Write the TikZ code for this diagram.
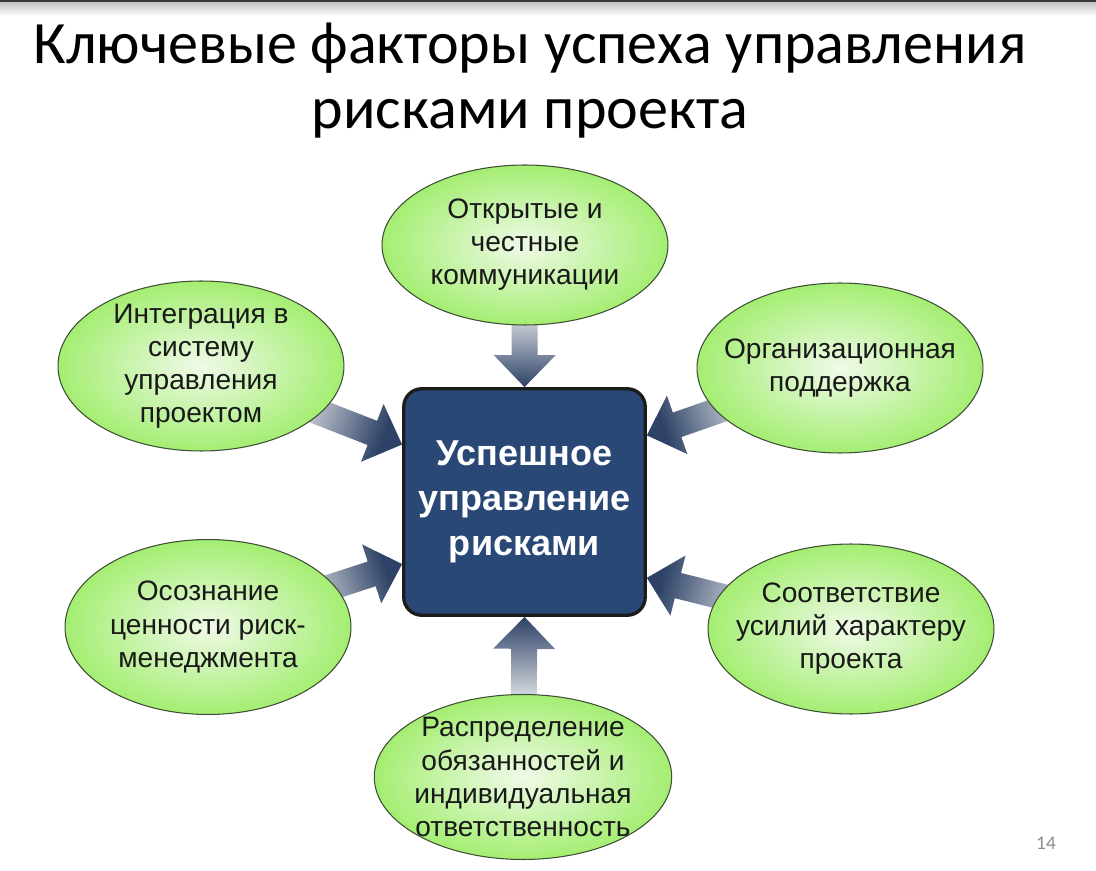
\documentclass[tikz,border=0pt]{standalone}
\usepackage{fontspec}
\setmainfont{Liberation Sans}
\newfontfamily\titlefont{Carlito}
\usetikzlibrary{calc,shapes.geometric,backgrounds}

\definecolor{boxblue}{HTML}{2A4876}
\definecolor{boxline}{HTML}{1C1C1C}
\definecolor{leafgreen}{HTML}{A4EE72}
\definecolor{leafcore}{HTML}{F0FAE8}
\definecolor{leafline}{HTML}{3E4E34}
\definecolor{arrowdark}{HTML}{2D4266}
\definecolor{arrowlight}{HTML}{D8DBE0}
\definecolor{pagegray}{HTML}{8C8C8C}

\begin{document}
\begin{tikzpicture}[x=0.02cm,y=-0.02cm,
factor/.style={shape=ellipse, minimum width=5.72cm, minimum height=3.4cm, inner sep=0pt,
  draw=leafline, line width=0.6pt, inner color=leafcore, outer color=leafgreen},
factortext/.style={align=center, inner sep=0pt, text=black!90, font=\fontsize{16}{18.8}\selectfont},
centre/.style={shape=rectangle, rounded corners=0.36cm, minimum width=4.83cm, minimum height=4.53cm,
  draw=boxline, line width=1.9pt, fill=boxblue, text=white, align=center,
  font=\fontsize{20.5}{25.5}\selectfont\bfseries},
fatarrow/.style={top color=arrowdark, bottom color=arrowlight, middle color=arrowlight,
  to path={(\tikztostart) coordinate (fa-s)
    ($(\tikztotarget)!0.64cm!(\tikztostart)$) coordinate (fa-n)
    ($(fa-s)!0.26cm!90:(fa-n)$) -- ($(fa-n)!0.26cm!-90:(fa-s)$) -- ($(fa-n)!0.62cm!-90:(fa-s)$)
    -- (\tikztotarget) -- ($(fa-n)!0.62cm!90:(fa-s)$) -- ($(fa-n)!0.26cm!90:(fa-s)$)
    -- ($(fa-s)!0.26cm!-90:(fa-n)$) -- cycle}}]
\useasboundingbox (0,0) rectangle (1096,871);

% slide edge
\fill [black!78] (0,0) rectangle (1096,3);
\shade [top color=black!22, bottom color=white] (0,3) rectangle (1096,16);

\path (530,23) node (title) [anchor=north, inner sep=0pt, align=center, font=\titlefont\fontsize{34.2}{37}\selectfont] {Ключевые факторы успеха управления\\рисками проекта};

\path (524.5,502) node (box) [centre] {Успешное\\управление\\рисками};

\path (525,245) node (etop) [factor, minimum height=3.2cm, label={[factortext]center:{Открытые и\\честные\\коммуникации}}] {};
\path (201,366) node (etl) [factor, label={[factortext]center:{Интеграция в\\систему\\управления\\проектом}}] {};
\path (840,368) node (etr) [factor, label={[factortext]center:{Организационная\\поддержка}}] {};
\path (208,627) node (ebl) [factor, minimum height=3.5cm, label={[factortext]center:{Осознание\\ценности риск-\\менеджмента}}] {};
\path (851,629) node (ebr) [factor, label={[factortext]center:{Соответствие\\усилий характеру\\проекта}}] {};
\path (523,777) node (ebot) [factor, minimum width=5.95cm, minimum height=3.3cm, label={[factortext]center:{Распределение\\обязанностей и\\индивидуальная\\ответственность}}] {};

\path (1046,843) node (pageno) [text=pagegray, font=\titlefont\fontsize{11}{13}\selectfont] {14};

\coordinate (in-t) at (box.north);
\coordinate (in-b) at (box.south);
\coordinate (in-tl) at ($(box.north west)!0.25!(box.south west)$);
\coordinate (in-bl) at ($(box.north west)!0.77!(box.south west)$);
\coordinate (in-tr) at ($(box.north east)!0.21!(box.south east)$);
\coordinate (in-br) at ($(box.north east)!0.83!(box.south east)$);

\begin{scope}[on background layer]
\path [fatarrow, shading angle=180] (etop) to (in-t);
\path [fatarrow, shading angle=0] (ebot) to (in-b);
\path [fatarrow, shading angle=-111] (etl) to (in-tl);
\path [fatarrow, shading angle=-72] (ebl) to (in-bl);
\path [fatarrow, shading angle=109] (etr) to (in-tr);
\path [fatarrow, shading angle=76] (ebr) to (in-br);
\end{scope}

\end{tikzpicture}
\end{document}
